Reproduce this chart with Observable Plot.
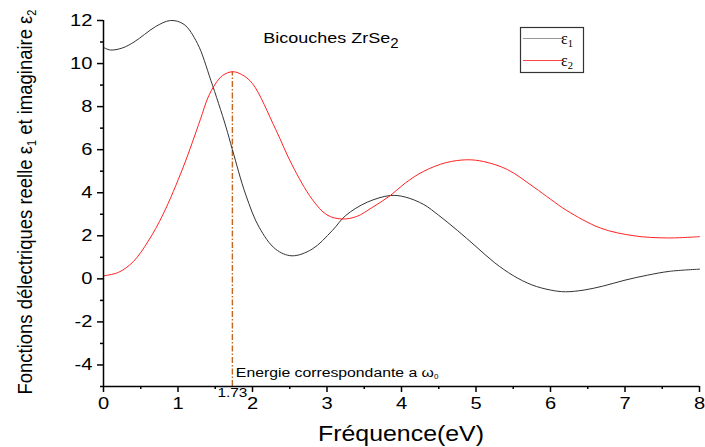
<!DOCTYPE html>
<html><head><meta charset="utf-8">
<script src="https://cdn.jsdelivr.net/npm/d3@7"></script>
<script src="https://cdn.jsdelivr.net/npm/@observablehq/plot@0.6"></script>
<style>body{margin:0;background:#fff} #chart svg{display:block}</style>
</head><body><div id="chart"></div>
<script>
// ε1 (real part)
const eps1X = [0, 0.09, 0.25, 0.41, 0.55, 0.7, 0.9, 1.08, 1.26, 1.44, 1.64, 1.73, 1.91, 2.09, 2.31, 2.53, 2.8, 3.07, 3.25, 3.54, 3.85, 4.05, 4.3, 4.5, 4.75, 5.0, 5.25, 5.5, 5.75, 6.0, 6.2, 6.45, 6.7, 7.0, 7.3, 7.6, 8.0];
const eps1Y = [10.75, 10.63, 10.72, 11.0, 11.35, 11.72, 12.0, 11.82, 10.94, 9.23, 7.1, 6.0, 3.9, 2.39, 1.38, 1.07, 1.38, 2.24, 2.94, 3.56, 3.87, 3.8, 3.45, 2.95, 2.25, 1.5, 0.75, 0.15, -0.28, -0.52, -0.6, -0.52, -0.34, -0.06, 0.17, 0.35, 0.45];
// ε2 (imaginary part)
const eps2X = [0, 0.2, 0.4, 0.6, 0.8, 1.07, 1.3, 1.4, 1.5, 1.6, 1.73, 1.85, 2.0, 2.31, 2.53, 2.8, 3.0, 3.2, 3.4, 3.6, 3.85, 4.05, 4.3, 4.6, 4.88, 5.1, 5.42, 5.78, 6.0, 6.22, 6.67, 7.12, 7.57, 8.0];
const eps2Y = [0.14, 0.3, 0.8, 1.75, 3.0, 5.19, 7.4, 8.4, 9.05, 9.45, 9.62, 9.5, 9.07, 6.95, 5.3, 3.7, 2.97, 2.78, 2.9, 3.3, 3.87, 4.45, 5.0, 5.4, 5.53, 5.45, 5.08, 4.25, 3.7, 3.17, 2.36, 2.0, 1.9, 1.96];

const xTicks = [0, 1, 2, 3, 4, 5, 6, 7, 8];
const xMinorTicks = [0.5, 1.5, 2.5, 3.5, 4.5, 5.5, 6.5, 7.5];
const yTicks = [-4, -2, 0, 2, 4, 6, 8, 10, 12];
const yMinorTicks = [-5, -3, -1, 1, 3, 5, 7, 9, 11];

const omega0 = [1.73];
const omega0Top = [9.62];
const seriesLabels = ["ε", "ε"];
const seriesSubs = ["1", "2"];
const seriesColors = ["#333333", "#ff2222"];
const titleMain = "Bicouches ZrSe";
const titleSub = "2";
const xLabel = "Fréquence(eV)";
const yLabelParts = [["Fonctions délectriques reelle ε", false], ["1", true], [" et imaginaire ε", false], ["2", true]];
const noteMain = "Energie correspondante a ω";
const noteSub = "0";

const d1 = eps1X.map((x, i) => ({x, y: eps1Y[i]}));
const d2 = eps2X.map((x, i) => ({x, y: eps2Y[i]}));

const FONT = "'Liberation Sans', Arial, sans-serif";

const plot = Plot.plot({
  width: 705, height: 447,
  marginTop: 20, marginLeft: 103, marginRight: 6, marginBottom: 61,
  x: {domain: [0, 8]},
  y: {domain: [-5, 12]},
  style: {fontFamily: FONT, background: "#fff", color: "#000"},
  marks: [
    Plot.ruleX(omega0, {y1: -5, y2: omega0Top[0], stroke: "#c4661f", strokeWidth: 1.4, strokeDasharray: "6,2,1.5,2"}),
    Plot.line(d1, {x: "x", y: "y", curve: "catmull-rom", stroke: seriesColors[0], strokeWidth: 1}),
    Plot.line(d2, {x: "x", y: "y", curve: "catmull-rom", stroke: seriesColors[1], strokeWidth: 1}),
    Plot.axisX({ticks: xTicks, tickSize: 6, tickPadding: 5, label: null, fontSize: 16.5, strokeWidth: 1.5, tickFormat: d => String(d)}),
    Plot.axisX({ticks: xMinorTicks, tickSize: 3, text: null, label: null, strokeWidth: 1.5}),
    Plot.axisY({ticks: yTicks, tickSize: 6, tickPadding: 5, label: null, fontSize: 16.5, strokeWidth: 1.5, tickFormat: d => String(d)}),
    Plot.axisY({ticks: yMinorTicks, tickSize: 3, text: null, label: null, strokeWidth: 1.5}),
    Plot.ruleX([0], {stroke: "#000", strokeWidth: 1.5}),
    Plot.ruleY([-5], {stroke: "#000", strokeWidth: 1.5}),
    Plot.text(omega0, {x: d => d, y: -5, text: d => d.toFixed(2), dy: 2, lineAnchor: "top", fontSize: 12, fill: "#000"})
  ]
});

document.getElementById("chart").appendChild(plot);
const svg = d3.select(plot);
const sx = plot.scale("x"), sy = plot.scale("y");

// horizontally stretch tick labels like the reference
svg.selectAll('g[aria-label$="tick label"] text').each(function() {
  const t = this.getAttribute("transform") || "";
  this.setAttribute("transform", t + " scale(1.22,1)");
});
svg.selectAll('g[aria-label="text"] text').attr("textLength", 30).attr("lengthAdjust", "spacingAndGlyphs");

function addText(x, y, parts, opts) {
  const t = svg.append("text").attr("x", x).attr("y", y)
    .attr("font-family", opts.family || FONT).attr("font-size", opts.size)
    .attr("fill", "#000").attr("text-anchor", opts.anchor || "start");
  if (opts.transform) t.attr("transform", opts.transform);
  let prevSub = false;
  for (const [s, sub] of parts) {
    const ts = t.append("tspan").text(s);
    if (sub) ts.attr("font-size", opts.subSize || opts.size * 0.65).attr("dy", opts.subDy);
    else if (prevSub) ts.attr("dy", -opts.subDy);
    prevSub = sub;
  }
  return t;
}

// title
addText(sx.apply(2.15), 43, [[titleMain, false], [titleSub, true]], {size: 15, subSize: 15, subDy: 5})
  .select("tspan").attr("textLength", 127).attr("lengthAdjust", "spacingAndGlyphs");

// note near the dashed line
addText(sx.apply(omega0[0]) + 4, 377, [[noteMain, false], [noteSub, true]], {size: 12, subSize: 8, subDy: 2})
  .select("tspan").attr("textLength", 198).attr("lengthAdjust", "spacingAndGlyphs");

// x label
addText(sx.apply(4), 441, [[xLabel, false]], {size: 22, anchor: "middle"})
  .attr("textLength", 166).attr("lengthAdjust", "spacingAndGlyphs");

// y label
const yl = addText(0, 0, yLabelParts, {size: 20, subSize: 12, subDy: 4, anchor: "middle", transform: "translate(32,202) rotate(-90)"});
yl.attr("textLength", 385).attr("lengthAdjust", "spacingAndGlyphs");

// legend
const lg = svg.append("g");
lg.append("rect").attr("x", 520.5).attr("y", 27.5).attr("width", 63).attr("height", 45)
  .attr("fill", "#fff").attr("stroke", "#333").attr("stroke-width", 1.2);
seriesLabels.forEach((s, i) => {
  const yy = 38.5 + i * 22;
  lg.append("line").attr("x1", 523).attr("x2", 563).attr("y1", yy).attr("y2", yy)
    .attr("stroke", i === 0 ? "#999" : "#ff4444").attr("stroke-width", 1.2);
  const t = lg.append("text").attr("x", 567).attr("y", yy + 5)
    .attr("font-family", "'Liberation Serif', 'Times New Roman', serif").attr("font-size", 16).attr("fill", "#000");
  t.append("tspan").text(s);
  t.append("tspan").text(seriesSubs[i]).attr("font-size", 10.5).attr("dy", 3);
});
</script>
</body></html>
